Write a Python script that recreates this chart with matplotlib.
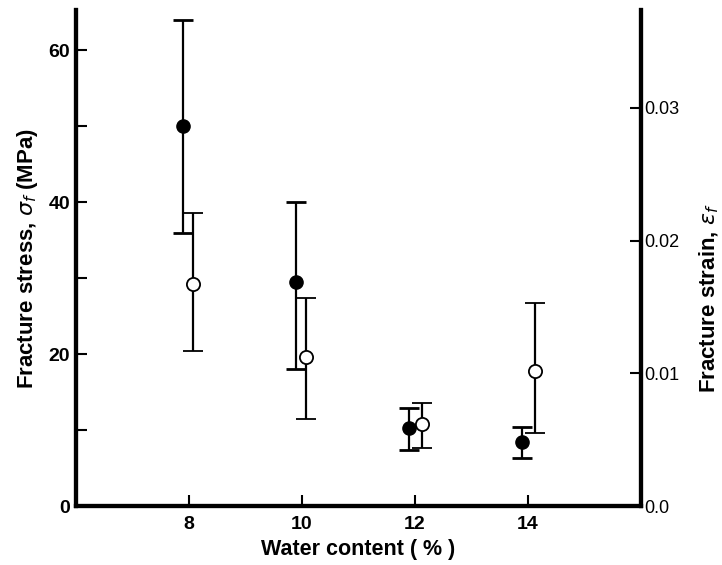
import matplotlib
matplotlib.use("Agg")
import matplotlib.pyplot as plt
from matplotlib.ticker import FixedLocator

plt.rcParams["font.family"] = ["Liberation Sans", "DejaVu Sans"]
plt.rcParams["mathtext.fontset"] = "dejavusans"

# fracture stress (filled circles, left axis, MPa)
stress_x = [7.9, 9.9, 11.9, 13.9]
stress = [50.0, 29.5, 10.3, 8.4]
stress_lo = [36.0, 18.0, 7.4, 6.3]
stress_hi = [64.0, 40.0, 12.9, 10.4]

# fracture strain (open circles, right axis)
strain_x = [8.08, 10.07, 12.12, 14.12]
strain = [0.0167, 0.0112, 0.0062, 0.0102]
strain_lo = [0.0117, 0.0066, 0.0044, 0.0055]
strain_hi = [0.0221, 0.0157, 0.0078, 0.0153]

x_ticks = [8, 10, 12, 14]
left_ticks = [0, 20, 40, 60]
left_minor = [10, 30, 50]
right_ticks = [0.0, 0.01, 0.02, 0.03]
right_labels = ["0.0", "0.01", "0.02", "0.03"]

Y_TOP = 65.3
STRAIN_PER_MPA = 0.01 / 17.49

fig = plt.figure(figsize=(7.22, 5.65), dpi=100)
ax = fig.add_axes([0.105, 0.104, 0.783, 0.878])
ax2 = ax.twinx()

err_kw = dict(fmt="o", color="black", ecolor="black", elinewidth=1.6,
              capsize=7, capthick=2.0, markersize=9.5, zorder=3)

ax.errorbar(stress_x, stress,
            yerr=[[s - l for s, l in zip(stress, stress_lo)],
                  [h - s for s, h in zip(stress, stress_hi)]],
            markerfacecolor="black", markeredgecolor="black", **err_kw)

ax2.errorbar(strain_x, strain,
             yerr=[[s - l for s, l in zip(strain, strain_lo)],
                   [h - s for s, h in zip(strain, strain_hi)]],
             markerfacecolor="white", markeredgecolor="black",
             markeredgewidth=1.3, **err_kw)

ax.set_xlim(6, 16)
ax.set_ylim(0, Y_TOP)
ax2.set_ylim(0, Y_TOP * STRAIN_PER_MPA)

for a in (ax, ax2):
    for side in ("left", "right", "bottom"):
        a.spines[side].set_linewidth(3)
    a.spines["top"].set_visible(False)

ax.set_xticks(x_ticks)
ax.set_xticklabels([str(t) for t in x_ticks], fontsize=14, fontweight="bold")
ax.set_yticks(left_ticks)
ax.set_yticklabels([str(t) for t in left_ticks], fontsize=14, fontweight="bold")
ax.yaxis.set_minor_locator(FixedLocator(left_minor))
ax.tick_params(axis="both", which="both", direction="in", length=8, width=1.5, pad=4)
ax.tick_params(axis="x", pad=7)

ax2.set_yticks(right_ticks)
ax2.set_yticklabels(right_labels, fontsize=13)
ax2.tick_params(axis="y", direction="in", length=8, width=1.5, pad=2)

ax.set_xlabel("Water content ( % )", fontsize=15.5, fontweight="bold", labelpad=4)
ax.set_ylabel(r"Fracture stress, $\sigma_f$ (MPa)", fontsize=16,
              fontweight="bold", labelpad=6)
ax2.set_ylabel(r"Fracture strain, $\epsilon_f$", fontsize=16,
               fontweight="bold", rotation=90)
ax2.yaxis.set_label_coords(1.1, 0.42)

fig.savefig("out.png", dpi=100)
